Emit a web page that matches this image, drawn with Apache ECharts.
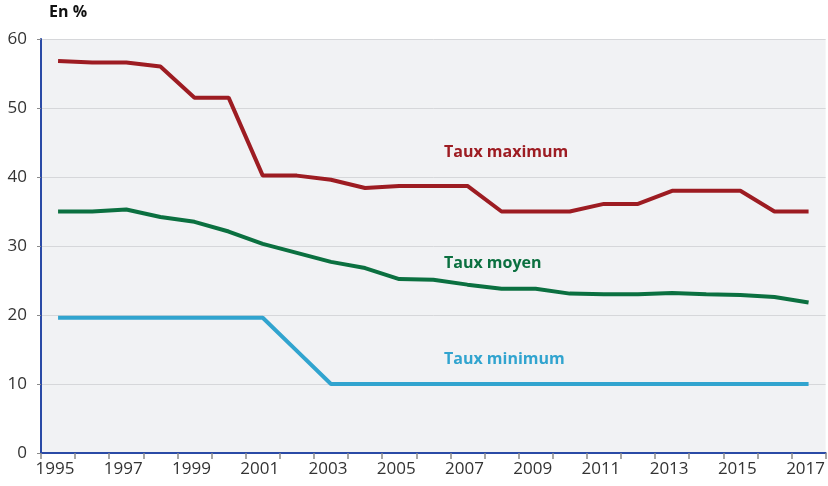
<!DOCTYPE html>
<html style="height: 100%">
<head>
	<meta charset="utf-8">
</head>
<body style="height: 100%; margin: 0; background: #fff">
<div id="container" style="width: 828px; height: 486px"></div>
<script src="https://cdn.jsdelivr.net/npm/echarts@6/dist/echarts.min.js"></script>
<script type="text/javascript">
	var years = ['1995','1996','1997','1998','1999','2000','2001','2002','2003','2004','2005','2006',
		'2007','2008','2009','2010','2011','2012','2013','2014','2015','2016','2017'];
	var tauxMax = [56.8, 56.6, 56.6, 56.0, 51.5, 51.5, 40.2, 40.2, 39.6, 38.4, 38.7, 38.7,
		38.7, 35.0, 35.0, 35.0, 36.1, 36.1, 38.0, 38.0, 38.0, 35.0, 35.0];
	var tauxMoyen = [35.0, 35.0, 35.3, 34.2, 33.5, 32.1, 30.3, 29.0, 27.7, 26.8, 25.2, 25.1,
		24.4, 23.8, 23.8, 23.1, 23.0, 23.0, 23.2, 23.0, 22.9, 22.6, 21.8];
	var tauxMin = [19.6, 19.6, 19.6, 19.6, 19.6, 19.6, 19.6, 14.8, 10.0, 10.0, 10.0, 10.0,
		10.0, 10.0, 10.0, 10.0, 10.0, 10.0, 10.0, 10.0, 10.0, 10.0, 10.0];
	var seriesNames = ['Taux maximum', 'Taux moyen', 'Taux minimum'];
	var colors = ['#9d1c22', '#0b7040', '#31a4cf'];

	var font = 'Open Sans';
	var dom = document.getElementById('container');
	var myChart = echarts.init(dom);

	function lineSeries(name, data, color) {
		return {
			name: name,
			type: 'line',
			data: data,
			symbol: 'none',
			silent: true,
			lineStyle: { color: color, width: 4 }
		};
	}

	// libellés des courbes, posés dans la zone du graphique
	function seriesLabel(i, top) {
		return {
			type: 'text', left: 444, top: top,
			style: { text: seriesNames[i], fontFamily: font, fontWeight: 'bold', fontSize: 16, fill: colors[i] }
		};
	}

	var option = {
		animation: false,
		textStyle: { fontFamily: font },
		grid: {
			left: 41, right: 2, top: 39, bottom: 33,
			show: true, backgroundColor: '#f1f2f4', borderWidth: 0
		},
		xAxis: {
			type: 'category',
			data: years,
			boundaryGap: true,
			axisLine: { lineStyle: { color: '#2a4aa6', width: 2 } },
			axisTick: { show: true, interval: 0, length: 6, lineStyle: { color: '#8a8a8a', width: 1.5 } },
			axisLabel: { interval: 1, color: '#333', fontSize: 17, margin: 8, padding: [0, 6, 0, 0], fontFamily: font }
		},
		yAxis: {
			type: 'value',
			min: 0, max: 60, interval: 10,
			axisLine: { show: true, lineStyle: { color: '#2a4aa6', width: 2 } },
			axisTick: { show: true, length: 4, lineStyle: { color: '#8a8a8a' } },
			axisLabel: { color: '#333', fontSize: 17, margin: 14, fontFamily: font },
			splitLine: { lineStyle: { color: '#d6d7da', width: 1 } }
		},
		graphic: [
			{ type: 'text', left: 49, top: 4, style: { text: 'En %', fontFamily: font, fontWeight: 'bold', fontSize: 16, fill: '#111' } },
			seriesLabel(0, 144),
			seriesLabel(1, 255),
			seriesLabel(2, 351)
		],
		series: [
			lineSeries(seriesNames[2], tauxMin, colors[2]),
			lineSeries(seriesNames[1], tauxMoyen, colors[1]),
			lineSeries(seriesNames[0], tauxMax, colors[0])
		]
	};

	myChart.setOption(option);
</script>
</body>
</html>
